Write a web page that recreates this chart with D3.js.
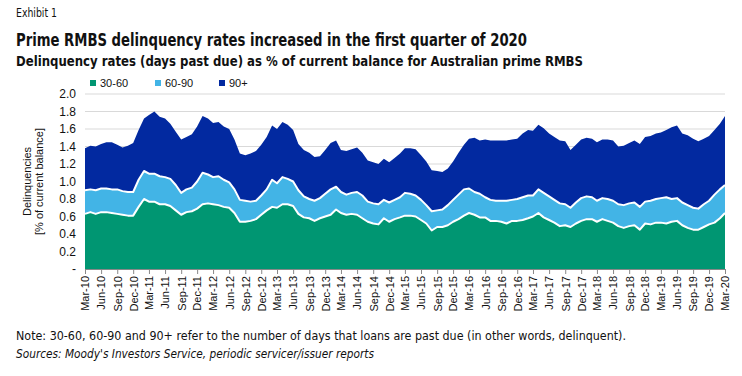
<!DOCTYPE html>
<html>
<head>
<meta charset="utf-8">
<script src="https://cdn.jsdelivr.net/npm/d3@7"></script>
<style>
  body { margin: 0; background: #fff; }
  svg { display: block; }
  .hdr { font-family: "Liberation Sans Narrow", "DejaVu Sans Condensed", "Roboto", sans-serif; fill: #111; }
  .ax text { font-family: "Liberation Sans", Arial, sans-serif; fill: #111; }
</style>
</head>
<body>
<svg id="chart" width="742" height="376"></svg>
<script>
// ── Data (monthly, Mar-10 .. Mar-20), % of current balance ─────────────────────
const seriesKeys = ["30-60", "60-90", "90+"];
const seriesColors = ["#009672", "#42b4e6", "#0229a0"];

const d30_60 = [
  0.63, 0.65, 0.63, 0.65, 0.65, 0.64, 0.63, 0.62, 0.61, 0.61,
  0.71, 0.80, 0.77, 0.77, 0.74, 0.74, 0.72, 0.67, 0.62, 0.65,
  0.66, 0.69, 0.74, 0.75, 0.74, 0.73, 0.71, 0.70, 0.64, 0.54,
  0.54, 0.55, 0.57, 0.62, 0.67, 0.71, 0.70, 0.74, 0.74, 0.72,
  0.63, 0.59, 0.58, 0.55, 0.58, 0.60, 0.62, 0.68, 0.64, 0.62,
  0.63, 0.62, 0.58, 0.54, 0.52, 0.51, 0.58, 0.54, 0.57, 0.59,
  0.61, 0.61, 0.60, 0.56, 0.52, 0.44, 0.48, 0.48, 0.50, 0.54,
  0.57, 0.61, 0.64, 0.62, 0.59, 0.59, 0.55, 0.55, 0.54, 0.52,
  0.55, 0.55, 0.56, 0.58, 0.60, 0.64, 0.59, 0.56, 0.53, 0.49,
  0.50, 0.48, 0.52, 0.55, 0.57, 0.57, 0.54, 0.57, 0.55, 0.53,
  0.49, 0.47, 0.49, 0.50, 0.45, 0.52, 0.51, 0.53, 0.53, 0.52,
  0.54, 0.55, 0.50, 0.47, 0.45, 0.45, 0.48, 0.51, 0.53, 0.58,
  0.64
];
const d60_90 = [
  0.27, 0.26, 0.27, 0.27, 0.27, 0.27, 0.28, 0.27, 0.27, 0.27,
  0.31, 0.32, 0.32, 0.32, 0.32, 0.31, 0.31, 0.29, 0.25, 0.26,
  0.27, 0.31, 0.36, 0.33, 0.31, 0.33, 0.31, 0.29, 0.27, 0.25,
  0.24, 0.22, 0.21, 0.22, 0.24, 0.31, 0.28, 0.31, 0.29, 0.28,
  0.27, 0.24, 0.22, 0.23, 0.23, 0.26, 0.29, 0.26, 0.24, 0.23,
  0.24, 0.26, 0.26, 0.23, 0.23, 0.23, 0.21, 0.22, 0.22, 0.23,
  0.26, 0.25, 0.24, 0.23, 0.21, 0.22, 0.19, 0.20, 0.23, 0.25,
  0.28, 0.30, 0.28, 0.26, 0.27, 0.23, 0.24, 0.23, 0.24, 0.26,
  0.24, 0.25, 0.26, 0.26, 0.24, 0.27, 0.28, 0.27, 0.26, 0.26,
  0.24, 0.22, 0.24, 0.26, 0.26, 0.25, 0.24, 0.24, 0.25, 0.25,
  0.25, 0.26, 0.26, 0.26, 0.26, 0.25, 0.27, 0.27, 0.28, 0.30,
  0.26, 0.26, 0.26, 0.26, 0.25, 0.24, 0.26, 0.27, 0.32, 0.33,
  0.32
];
const d90plus = [
  0.48, 0.50, 0.50, 0.51, 0.53, 0.54, 0.51, 0.50, 0.53, 0.56,
  0.57, 0.60, 0.67, 0.71, 0.68, 0.67, 0.63, 0.61, 0.61, 0.60,
  0.61, 0.63, 0.65, 0.64, 0.62, 0.62, 0.61, 0.61, 0.57, 0.53,
  0.52, 0.55, 0.57, 0.58, 0.60, 0.62, 0.62, 0.63, 0.62, 0.59,
  0.53, 0.53, 0.53, 0.50, 0.48, 0.50, 0.53, 0.53, 0.48, 0.50,
  0.50, 0.51, 0.49, 0.47, 0.47, 0.46, 0.47, 0.46, 0.48, 0.50,
  0.51, 0.52, 0.53, 0.51, 0.50, 0.47, 0.45, 0.43, 0.42, 0.44,
  0.48, 0.51, 0.57, 0.62, 0.61, 0.66, 0.68, 0.69, 0.69, 0.69,
  0.69, 0.69, 0.73, 0.75, 0.74, 0.74, 0.74, 0.72, 0.72, 0.72,
  0.72, 0.66, 0.66, 0.67, 0.67, 0.67, 0.67, 0.67, 0.68, 0.69,
  0.66, 0.68, 0.69, 0.71, 0.72, 0.74, 0.74, 0.75, 0.75, 0.77,
  0.82, 0.83, 0.79, 0.80, 0.79, 0.77, 0.75, 0.74, 0.74, 0.75,
  0.79
];
const yTicks = [0, 0.2, 0.4, 0.6, 0.8, 1.0, 1.2, 1.4, 1.6, 1.8, 2.0];

const months = d3.timeMonth.range(new Date(2010, 2, 1), new Date(2020, 3, 1));
const rows = months.map((m, i) => ({
  date: m, "30-60": d30_60[i], "60-90": d60_90[i], "90+": d90plus[i],
}));

// ── Layout ────────────────────────────────────────────────────────────────────
const svg = d3.select("#chart");
const plot = { left: 85, right: 725, top: 94, bottom: 269 };

const x = d3.scaleTime()
  .domain([months[0], months[months.length - 1]])
  .range([plot.left, plot.right]);
const y = d3.scaleLinear().domain([0, 2]).range([plot.bottom, plot.top]);

// ── Headers ───────────────────────────────────────────────────────────────────
function hdr(txt, yy, size, weight, len, style) {
  svg.append("text").attr("class", "hdr")
    .attr("x", 16).attr("y", yy)
    .attr("font-size", size).attr("font-weight", weight || "normal")
    .attr("font-style", style || "normal")
    .attr("textLength", len).attr("lengthAdjust", "spacingAndGlyphs")
    .text(txt);
}
hdr("Exhibit 1", 17, 12.5, "normal", 41);
hdr("Prime RMBS delinquency rates increased in the first quarter of 2020", 46, 17.5, "bold", 511);
hdr("Delinquency rates (days past due) as % of current balance for Australian prime RMBS", 66, 14.5, "bold", 567);
hdr("Note: 30-60, 60-90 and 90+ refer to the number of days that loans are past due (in other words, delinquent).", 340, 12.5, "normal", 610);
hdr("Sources: Moody's Investors Service, periodic servicer/issuer reports", 358, 12.5, "normal", 358, "italic");

// ── Legend ────────────────────────────────────────────────────────────────────
const legendX = [90, 155, 219];
seriesKeys.forEach((k, i) => {
  const g = svg.append("g").attr("class", "ax").attr("transform", `translate(${legendX[i]},83)`);
  g.append("rect").attr("x", 0).attr("y", -3).attr("width", 6).attr("height", 6).attr("fill", seriesColors[i]);
  g.append("text").attr("x", 10).attr("y", 4).attr("font-size", 11).text(k);
});

// ── Grid ──────────────────────────────────────────────────────────────────────
svg.append("g")
  .selectAll("line")
  .data(yTicks.filter((t) => t > 0))
  .join("line")
  .attr("x1", plot.left).attr("x2", plot.right)
  .attr("y1", (d) => y(d)).attr("y2", (d) => y(d))
  .attr("stroke", "#d9d9d9").attr("stroke-width", 1);

// ── Stacked areas ─────────────────────────────────────────────────────────────
const stacked = d3.stack().keys(seriesKeys)(rows);

const area = d3.area()
  .x((d) => x(d.data.date))
  .y0((d) => y(d[0]))
  .y1((d) => y(d[1]));

svg.append("g")
  .selectAll("path")
  .data(stacked)
  .join("path")
  .attr("d", area)
  .attr("fill", (d, i) => seriesColors[i]);

const topLine = d3.line()
  .x((d) => x(d.data.date))
  .y((d) => y(d[1]));

svg.append("g")
  .selectAll("path")
  .data(stacked.slice(0, 2))
  .join("path")
  .attr("d", topLine)
  .attr("fill", "none")
  .attr("stroke", "#fff")
  .attr("stroke-width", 2)
  .attr("stroke-linejoin", "round");

// ── Axes ──────────────────────────────────────────────────────────────────────
const quarterly = months.filter((m, i) => i % 3 === 0);
const xAxis = svg.append("g").attr("class", "ax")
  .attr("transform", `translate(0,${plot.bottom})`)
  .call(d3.axisBottom(x).tickValues(quarterly).tickSize(5).tickFormat(d3.timeFormat("%b-%y")));
xAxis.select(".domain").attr("stroke", "#888");
xAxis.selectAll(".tick line").attr("stroke", "#888");
xAxis.selectAll("text")
  .attr("font-size", 11)
  .attr("transform", "rotate(-90)")
  .attr("text-anchor", "end")
  .attr("x", -7).attr("y", 0).attr("dy", "0.35em");

const yAxis = svg.append("g").attr("class", "ax")
  .attr("transform", `translate(${plot.left - 6},0)`)
  .call(d3.axisLeft(y).tickValues(yTicks).tickSize(0)
    .tickFormat((d) => d === 0 ? "-" : d3.format(".1f")(d)));
yAxis.select(".domain").remove();
yAxis.selectAll("text").attr("font-size", 12);

const yTitle = svg.append("g").attr("class", "ax")
  .attr("transform", `translate(34,${(plot.top + plot.bottom) / 2}) rotate(-90)`);
yTitle.append("text").attr("text-anchor", "middle").attr("y", -3).attr("font-size", 11).text("Delinquencies");
yTitle.append("text").attr("text-anchor", "middle").attr("y", 9).attr("font-size", 11).text("[% of current balance]");
</script>
</body>
</html>
